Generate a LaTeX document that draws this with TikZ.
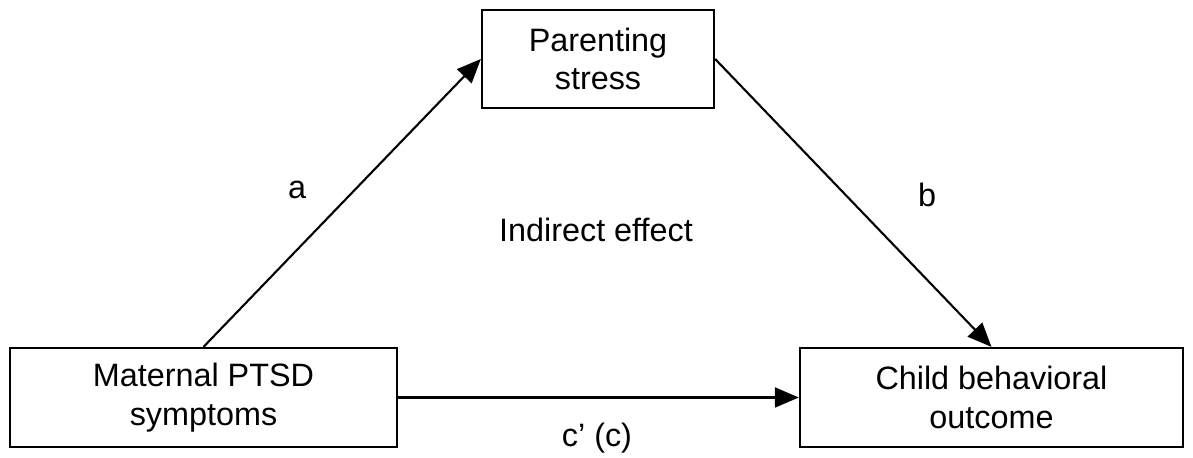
\documentclass[tikz,border=0pt]{standalone}
\usepackage{fontspec}
\setmainfont{Liberation Sans}
\usepackage{tikz}
\usetikzlibrary{arrows.meta,positioning}

\tikzset{
	var/.style={draw, rectangle, align=center, inner sep=0pt},
	lbl/.style={inner sep=0pt}
}

\begin{document}
\begin{tikzpicture}[x=0.01cm,y=-0.01cm,->,>={Triangle[length=0.24cm,width=0.2cm]},semithick,font=\fontsize{9.2}{11}\selectfont]
	\useasboundingbox (0,0) rectangle (1193,458);

	\node [var, minimum width=2.32cm, minimum height=0.98cm]	(ps)	at (598,59)		{Parenting\\stress};
	\node [var, minimum width=3.87cm, minimum height=0.99cm]	(mp)	at (203.5,397.5)	{Maternal PTSD\\symptoms};
	\node [var, minimum width=3.83cm, minimum height=0.99cm]	(cb)	at (991.5,397.5)	{Child behavioral\\outcome};

	\node [lbl]	(la)	at (297,190)	{a};
	\node [lbl]	(lb)	at (927,195)	{b};
	\node [lbl]	(ie)	at (596,230)	{Indirect effect};
	\node [lbl]	(lc)	at (597,438)	{c’ (c)};

	\path
		(mp.north)	edge	(ps.west)
		(ps.east)	edge	(cb.north)
		(mp.east)	edge	(cb.west)
	;
\end{tikzpicture}
\end{document}
